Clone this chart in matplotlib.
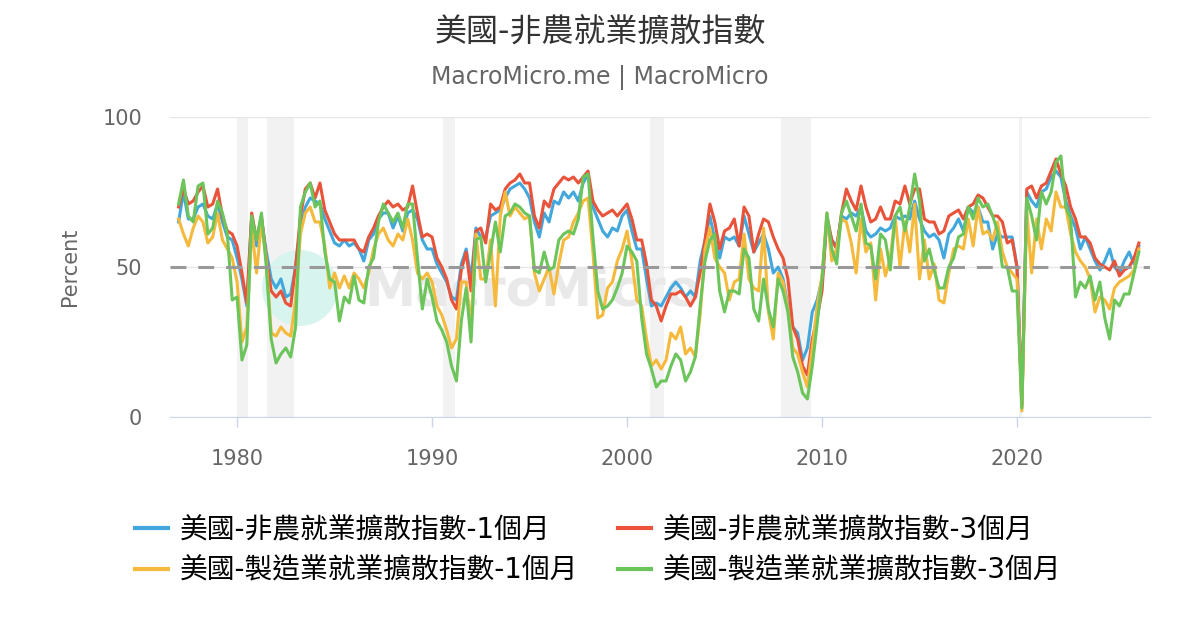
import numpy as np
import matplotlib
matplotlib.use("Agg")
import matplotlib.pyplot as plt
from matplotlib.lines import Line2D
from matplotlib.patches import Ellipse

plt.rcParams['font.family'] = ['DejaVu Sans', 'Noto Sans CJK TC']

# quarterly readings, 1977 Q1 .. 2026 Q2
start_year = 1977.0

nonfarm_1m = [
    65, 75, 66, 66, 70, 71, 67, 66, 71, 65, 60, 59, 53, 46, 37, 67, 57, 66, 55, 46, 43, 46, 40, 41, 50, 63, 70, 73,
    72, 71, 66, 62, 58, 57, 59, 57, 58, 56, 52, 59, 61, 66, 68, 68, 63, 67, 62, 68, 69, 66, 59, 56, 56, 51,
    48, 45, 40, 39, 51, 56, 46, 63, 60, 60, 67, 68, 69, 73, 76, 77, 78, 76, 73, 65, 60, 68, 65, 72, 71, 75, 73, 75,
    72, 78, 81, 70, 66, 62, 60, 63, 62, 67, 69, 62, 56, 56, 46, 37, 38, 37, 40, 43, 45, 43, 40, 42, 40, 52, 59,
    67, 59, 53, 60, 59, 60, 57, 67, 61, 55, 58, 61, 56, 48, 50, 46, 37, 30, 28, 19, 23, 35, 39, 46, 65, 59, 57, 67,
    66, 68, 67, 70, 62, 60, 61, 63, 62, 63, 67, 66, 67, 66, 72, 66, 62, 60, 61, 59, 53, 61, 63, 66, 62, 70, 68, 70, 65,
    65, 56, 61,
    60, 60, 60, 50, 4, 75, 72, 70, 75, 76, 80, 82, 80, 72, 67, 63, 56, 60, 56, 52, 49, 52, 56, 50, 48, 52, 55, 51, 57,
]

nonfarm_3m = [
    70, 76, 71, 72, 75, 77, 70, 71, 76, 67, 62, 61, 57, 48, 38, 68, 59, 67, 53, 42, 40, 42, 38, 37, 50, 67, 76, 78,
    73, 78, 69, 65, 61, 59, 59, 59, 59, 56, 55, 60, 63, 67, 70, 72, 70, 71, 69, 70, 77, 68, 60, 61, 60, 53,
    50, 46, 39, 36, 49, 55, 42, 62, 63, 58, 71, 69, 70, 76, 78, 79, 81, 78, 78, 67, 63, 72, 70, 76, 78, 80, 79, 80,
    78, 80, 82, 72, 69, 67, 68, 69, 67, 69, 71, 66, 59, 59, 51, 39, 37, 32, 37, 41, 41, 42, 40, 37, 40, 48, 59,
    71, 65, 56, 62, 63, 66, 57, 70, 67, 55, 61, 66, 65, 60, 56, 53, 46, 30, 26, 17, 14, 26, 33, 42, 67, 59, 56, 68,
    76, 72, 69, 77, 70, 65, 66, 70, 66, 66, 72, 71, 77, 71, 76, 76, 66, 65, 65, 61, 62, 67, 68, 69, 66, 70, 71, 74, 73,
    70, 67, 67,
    65, 58, 59, 50, 4, 76, 77, 73, 77, 78, 82, 86, 81, 77, 70, 66, 60, 60, 58, 53, 51, 50, 49, 52, 47, 49, 50, 53, 58,
]

mfg_1m = [
    66, 61, 57, 63, 67, 65, 58, 60, 68, 59, 56, 53, 45, 25, 30, 63, 48, 65, 52, 28, 27, 30, 28, 27, 39, 61, 68, 70,
    65, 65, 57, 43, 48, 43, 47, 43, 48, 46, 43, 48, 56, 61, 63, 59, 57, 61, 59, 66, 59, 48, 46, 48, 45, 37,
    34, 29, 23, 26, 45, 45, 30, 61, 46, 46, 59, 37, 67, 75, 67, 70, 68, 66, 67, 48, 42, 46, 50, 41, 51, 59, 60, 65,
    68, 72, 73, 55, 33, 34, 43, 45, 52, 56, 62, 52, 39, 37, 26, 17, 19, 16, 19, 28, 26, 30, 21, 23, 20, 34, 56,
    63, 53, 50, 48, 39, 45, 46, 61, 46, 43, 42, 63, 35, 26, 48, 45, 36, 23, 21, 15, 10, 23, 37, 47, 68, 52, 56, 66,
    65, 58, 48, 66, 55, 58, 39, 56, 47, 53, 67, 50, 65, 55, 71, 46, 59, 46, 51, 39, 38, 48, 56, 57, 56, 66, 57, 70, 61,
    62, 59, 65,
    55, 50, 48, 46, 2, 69, 48, 66, 56, 66, 62, 75, 70, 70, 61, 55, 52, 50, 46, 35, 40, 39, 36, 43, 45, 46, 47, 49, 56,
]

mfg_3m = [
    71, 79, 67, 65, 77, 78, 61, 63, 72, 68, 61, 39, 40, 19, 24, 67, 59, 68, 50, 26, 18, 21, 23, 20, 30, 70, 75, 78,
    70, 72, 55, 46, 45, 32, 40, 38, 47, 39, 38, 50, 53, 65, 71, 68, 65, 68, 63, 71, 71, 53, 36, 46, 40, 32,
    29, 25, 17, 12, 32, 43, 25, 59, 60, 45, 55, 65, 55, 67, 68, 71, 70, 68, 67, 49, 48, 55, 49, 50, 59, 61, 62, 61,
    66, 80, 81, 60, 42, 36, 37, 39, 43, 48, 57, 55, 52, 33, 21, 16, 10, 12, 12, 17, 21, 19, 12, 15, 20, 37, 52,
    59, 61, 42, 35, 42, 42, 41, 56, 53, 36, 32, 46, 36, 30, 46, 42, 35, 20, 15, 8, 6, 17, 31, 46, 68, 56, 51, 68,
    72, 67, 62, 71, 58, 57, 46, 61, 59, 49, 67, 70, 62, 70, 81, 72, 52, 56, 49, 43, 43, 50, 53, 60, 61, 70, 66, 73, 70,
    71, 67, 62,
    50, 50, 42, 42, 3, 73, 67, 59, 75, 71, 75, 85, 87, 70, 66, 40, 45, 43, 47, 39, 45, 33, 26, 39, 37, 41, 41, 48, 55,
]

recession_start = [1980.0, 1981.54, 1990.55, 2001.17, 2007.92, 2020.08]
recession_end = [1980.58, 1982.9, 1991.2, 2001.88, 2009.45, 2020.28]

labels = ['美國-非農就業擴散指數-1個月', '美國-非農就業擴散指數-3個月',
          '美國-製造業就業擴散指數-1個月', '美國-製造業就業擴散指數-3個月']
colors = ['#41a7dc', '#e8533a', '#f5b93c', '#6cc55a']

t = start_year + np.arange(len(nonfarm_1m)) / 4.0

fig = plt.figure(figsize=(12, 6.3), dpi=100)
ax = fig.add_axes([170 / 1200, 1 - 417 / 630, 980 / 1200, 300 / 630])

for s, e in zip(recession_start, recession_end):
    ax.axvspan(s, e, color='#f2f2f2', zorder=0, lw=0)

# watermark
ax.add_patch(Ellipse(((300 - 170) / 980, (417 - 288) / 300), 76 / 980, 76 / 300,
                     transform=ax.transAxes, color='#d8f4ef', zorder=0.5, lw=0))
ax.text(0.37, 0.42, 'MacroMicro', transform=ax.transAxes, fontsize=37, fontweight='bold',
        color='#e9e9e9', ha='center', va='center', zorder=0.6)

for y in (0, 50, 100):
    ax.axhline(y, color='#e6e6e6', lw=1, zorder=0.7)

series = [nonfarm_1m, nonfarm_3m, mfg_1m, mfg_3m]
for i, (vals, c) in enumerate(zip(series, colors)):
    ax.plot(t, vals, color=c, lw=2.2, zorder=2 + i, solid_joinstyle='round')

ax.axhline(50, color='#999999', lw=2.2, linestyle=(0, (5.2, 3.9)), zorder=7)

ax.set_xlim(1976.56, 2026.82)
ax.set_ylim(0, 100)
ax.set_yticks([0, 50, 100])
ax.set_xticks([1980, 1990, 2000, 2010, 2020])
ax.tick_params(axis='y', length=0, pad=20, labelsize=15, labelcolor='#666666')
ax.tick_params(axis='x', length=7, width=1, color='#ccd6eb', pad=16, labelsize=15, labelcolor='#666666')
for side in ('top', 'right', 'left'):
    ax.spines[side].set_visible(False)
ax.spines['bottom'].set_color('#ccd6eb')
ax.set_ylabel('Percent', fontsize=15, color='#666666', labelpad=16)

fig.text(0.5, 1 - 33 / 630, '美國-非農就業擴散指數', ha='center', va='center', fontsize=23, color='#333333')
fig.text(0.5, 1 - 78 / 630, 'MacroMicro.me | MacroMicro', ha='center', va='center', fontsize=17, color='#666666')

handles = [Line2D([], [], color=c, lw=3) for c in colors]
order = [0, 2, 1, 3]
fig.legend([handles[i] for i in order], [labels[i] for i in order], loc='upper left',
           bbox_to_anchor=(135 / 1200, 1 - 516 / 630), ncol=2, frameon=False, fontsize=20,
           handlelength=1.2, handletextpad=0.43, columnspacing=1.4, labelspacing=0.45,
           borderpad=0, borderaxespad=0)

fig.savefig('out.png', dpi=100)
